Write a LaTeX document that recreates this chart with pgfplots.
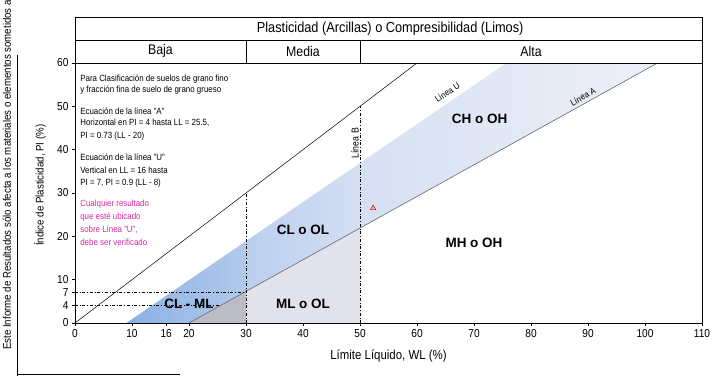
\documentclass[border=0pt]{standalone}
\usepackage{fontspec}
\setmainfont{Liberation Sans}[FakeStretch=0.88]
\newfontfamily\blabel{Liberation Sans}
\usepackage{pgfplots}
\pgfplotsset{compat=1.18}
\definecolor{bandAl}{RGB}{140,176,226}
\definecolor{bandAr}{RGB}{178,202,236}
\definecolor{bandBl}{RGB}{186,206,238}
\definecolor{bandBr}{RGB}{212,223,243}
\definecolor{bandCl}{RGB}{214,224,243}
\definecolor{bandCr}{RGB}{238,240,247}
\definecolor{greytri}{RGB}{188,188,198}
\definecolor{lav}{RGB}{226,226,236}
\definecolor{magtext}{RGB}{214,40,160}
\begin{document}
\begin{tikzpicture}
\useasboundingbox (0pt,0pt) rectangle (712pt,376pt);
\begin{scope}
\clip (0pt,0pt) rectangle (712pt,376pt);
\node[rotate=90, anchor=west, inner sep=0, font=\fontsize{11}{12}\selectfont] at (8pt,26pt) {Este Informe de Resultados sólo afecta a los materiales o elementos sometidos a ensayo};
\end{scope}
\draw[black, thin] (17pt,0pt) -- (17pt,321pt);
\draw[black, thin] (17pt,2pt) -- (180pt,2pt);
\begin{axis}[
  at={(75pt,53pt)}, anchor=south west, scale only axis,
  width=627pt, height=260pt,
  xmin=0, xmax=110, ymin=0, ymax=60,
  xtick={0,10,16,20,30,40,50,60,70,80,90,100,110},
  ytick={0,4,7,10,20,30,40,50,60},
  xtick pos=left, ytick pos=left,
  tick align=outside, major tick length=3pt,
  tick style={black, thin},
  ticklabel style={font=\fontsize{11.5}{11.5}\selectfont},
  /pgf/number format/assume math mode=true,
  axis line style={black, thin},
  clip=false,
  xlabel={Límite Líquido, WL (\%)},
  ylabel={Índice de Plasticidad, PI (\%)},
  xlabel style={font=\fontsize{13}{13}\selectfont, at={(axis description cs:0.5,-0.127)}, anchor=center},
  ylabel style={font=\fontsize{11}{11}\selectfont, at={(axis description cs:-0.056,0.53)}, anchor=center},
  axis on top,
]
% shaded regions
\addplot[draw=none, fill=greytri] coordinates {(20,0) (30,0) (30,7.3)} -- cycle;
\addplot[draw=none, fill=lav] coordinates {(30,0) (50,0) (50,21.9) (30,7.3)} -- cycle;
\addplot[draw=none, left color=bandAl, right color=bandAr] coordinates {(9,0) (20,0) (30,7.3) (30,18.9)} -- cycle;
\addplot[draw=none, left color=bandBl, right color=bandBr] coordinates {(30,7.3) (50,21.9) (50,36.9) (30,18.9)} -- cycle;
\addplot[draw=none, left color=bandCl, right color=bandCr] coordinates {(50,21.9) (102.19,60) (75.67,60) (50,36.9)} -- cycle;
% lines
\addplot[black, line width=0.5pt] coordinates {(0,0) (60,60)};
\addplot[black!60, line width=0.6pt] coordinates {(20,0) (102.19,60)};
\addplot[black, thin, dash dot] coordinates {(30,0) (30,30)};
\addplot[black, thin, dash dot] coordinates {(50,0) (50,50)};
\addplot[black, thin, dash dot] coordinates {(0,7) (29.6,7)};
\addplot[black, thin, dash dot] coordinates {(0,4) (25.5,4)};
% result point
\addplot[only marks, mark=triangle*, mark size=3.2pt, mark options={draw=red!65!black, fill=red!35}] coordinates {(52.3,26.5)};
% header boxes
\draw[black, thin] (axis cs:0,60) -- (axis cs:0,70.6) -- (axis cs:110,70.6) -- (axis cs:110,60);
\draw[black, thin] (axis cs:0,65.3) -- (axis cs:110,65.3);
\draw[black, thin] (axis cs:30,60) -- (axis cs:30,65.3);
\draw[black, thin] (axis cs:50,60) -- (axis cs:50,65.3);
\node[font=\fontsize{14.5}{15}\selectfont] at (axis cs:55.3,68) {Plasticidad (Arcillas) o Compresibilidad (Limos)};
\node[font=\fontsize{14}{15}\selectfont] at (axis cs:15,62.7) {Baja};
\node[font=\fontsize{14}{15}\selectfont] at (axis cs:40,62.7) {Media};
\node[font=\fontsize{14}{15}\selectfont] at (axis cs:80,62.7) {Alta};
% zone labels
\node[font=\blabel\bfseries\fontsize{13.5}{13.5}\selectfont] at (axis cs:40,21.5) {CL o OL};
\node[font=\blabel\bfseries\fontsize{13.5}{13.5}\selectfont] at (axis cs:40,4.4) {ML o OL};
\node[font=\blabel\bfseries\fontsize{13.5}{13.5}\selectfont] at (axis cs:20,4.4) {CL - ML};
\node[font=\blabel\bfseries\fontsize{13.5}{13.5}\selectfont] at (axis cs:71,47) {CH o OH};
\node[font=\blabel\bfseries\fontsize{13.5}{13.5}\selectfont] at (axis cs:70,18.5) {MH o OH};
% line labels
\node[rotate=34, font=\fontsize{9}{9}\selectfont] at (axis cs:65.3,53.2) {Línea U};
\node[rotate=29, font=\fontsize{9}{9}\selectfont] at (axis cs:89.1,52.2) {Línea A};
\node[rotate=90, font=\fontsize{10}{10}\selectfont] at (axis cs:49.1,41.5) {Línea B};
% notes
\begin{scope}[every node/.style={anchor=base west, inner sep=0, font=\fontsize{9}{9}\selectfont}]
\node at (axis cs:0.9,55.8) {Para Clasificación de suelos de grano fino};
\node at (axis cs:0.9,53.1) {y fracción fina de suelo de grano grueso};
\node at (axis cs:0.9,48.2) {Ecuación de la línea "A"};
\node at (axis cs:0.9,45.5) {Horizontal en PI = 4 hasta LL = 25.5,};
\node at (axis cs:0.9,42.5) {PI = 0.73 (LL - 20)};
\node at (axis cs:0.9,37.4) {Ecuación de la línea "U"};
\node at (axis cs:0.9,34.6) {Vertical en LL = 16 hasta};
\node at (axis cs:0.9,31.8) {PI = 7, PI = 0.9 (LL - 8)};
\node[text=magtext] at (axis cs:0.9,26.8) {Cualquier resultado};
\node[text=magtext] at (axis cs:0.9,24.0) {que esté ubicado};
\node[text=magtext] at (axis cs:0.9,21.0) {sobre Línea "U",};
\node[text=magtext] at (axis cs:0.9,18.0) {debe ser verificado};
\end{scope}
\end{axis}
\end{tikzpicture}
\end{document}
